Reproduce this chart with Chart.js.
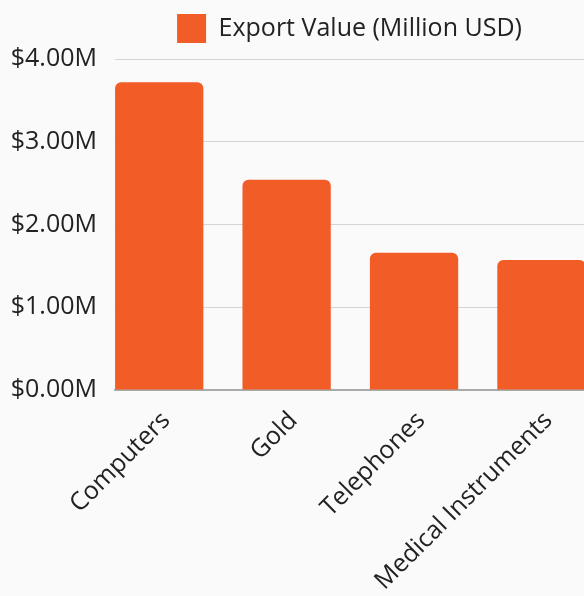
<!DOCTYPE html>
<html>
<head>
<meta charset="utf-8">
<title>Top Exports</title>
<script src="https://cdn.jsdelivr.net/npm/chart.js@4"></script>
<style>
    html, body {
        margin: 0;
        padding: 0;
        background: #fafafa;
        overflow: hidden;
    }
    .chart-wrap {
        position: relative;
        width: 584px;
        height: 596px;
    }
</style>
</head>
<body>
<div class="chart-wrap">
    <canvas id="exportChart"></canvas>
</div>
<script>
// Export data (million USD)
const categories = ['Computers', 'Gold', 'Telephones', 'Medical Instruments'];
const exportValues = [3.72, 2.54, 1.66, 1.57];
const seriesLabel = 'Export Value (Million USD)';
const yTicks = [0, 1, 2, 3, 4];

const BAR_COLOR = '#f25c26';
const FONT = "'Open Sans', sans-serif";
const FONT_SIZE = 25;

function formatMillions(v) {
    return '$' + v.toFixed(2) + 'M';
}

// Adds some breathing room under the legend
const legendMargin = {
    id: 'legendMargin',
    beforeInit(chart) {
        const originalFit = chart.legend.fit;
        chart.legend.fit = function fit() {
            originalFit.bind(chart.legend)();
            this.height += 6;
        };
    }
};

function createExportChart() {
    const canvas = document.getElementById('exportChart');
    if (!canvas) return;
    const ctx = canvas.getContext('2d');

    Chart.defaults.font.family = FONT;
    Chart.defaults.color = '#222';

    new Chart(ctx, {
        type: 'bar',
        data: {
            datasets: [{
                label: seriesLabel,
                data: exportValues.map((v, i) => ({ x: i, y: v })),
                backgroundColor: BAR_COLOR,
                borderRadius: { topLeft: 6, topRight: 6 },
                borderSkipped: 'bottom',
                categoryPercentage: 0.77,
                barPercentage: 0.9
            }]
        },
        options: {
            responsive: true,
            maintainAspectRatio: false,
            animation: false,
            layout: {
                padding: { top: 0, right: 0, bottom: 0, left: 0 }
            },
            plugins: {
                legend: {
                    display: true,
                    position: 'top',
                    fullSize: false,
                    labels: {
                        boxWidth: 29,
                        boxHeight: 29,
                        padding: 14,
                        font: { size: FONT_SIZE }
                    }
                },
                tooltip: { enabled: false }
            },
            scales: {
                x: {
                    type: 'linear',
                    offset: false,
                    min: -0.347,
                    max: 3.334,
                    afterBuildTicks: scale => {
                        scale.ticks = categories.map((c, i) => ({ value: i }));
                    },
                    afterFit: scale => {
                        scale.height = 206;
                    },
                    ticks: {
                        autoSkip: false,
                        minRotation: 45,
                        maxRotation: 45,
                        padding: 8,
                        labelOffset: 7,
                        font: { size: FONT_SIZE },
                        callback: value => categories[value]
                    },
                    grid: { display: false },
                    border: { display: true, color: '#aaaaaa', width: 2 }
                },
                y: {
                    min: 0,
                    max: 4,
                    afterBuildTicks: scale => {
                        scale.ticks = yTicks.map(v => ({ value: v }));
                    },
                    afterFit: scale => {
                        scale.width = 115;
                    },
                    ticks: {
                        padding: 18,
                        font: { size: FONT_SIZE },
                        callback: value => formatMillions(value)
                    },
                    grid: {
                        color: '#d4d4d4',
                        lineWidth: 1,
                        drawTicks: false
                    },
                    border: { display: false }
                }
            }
        },
        plugins: [legendMargin]
    });
}

createExportChart();
</script>
</body>
</html>
